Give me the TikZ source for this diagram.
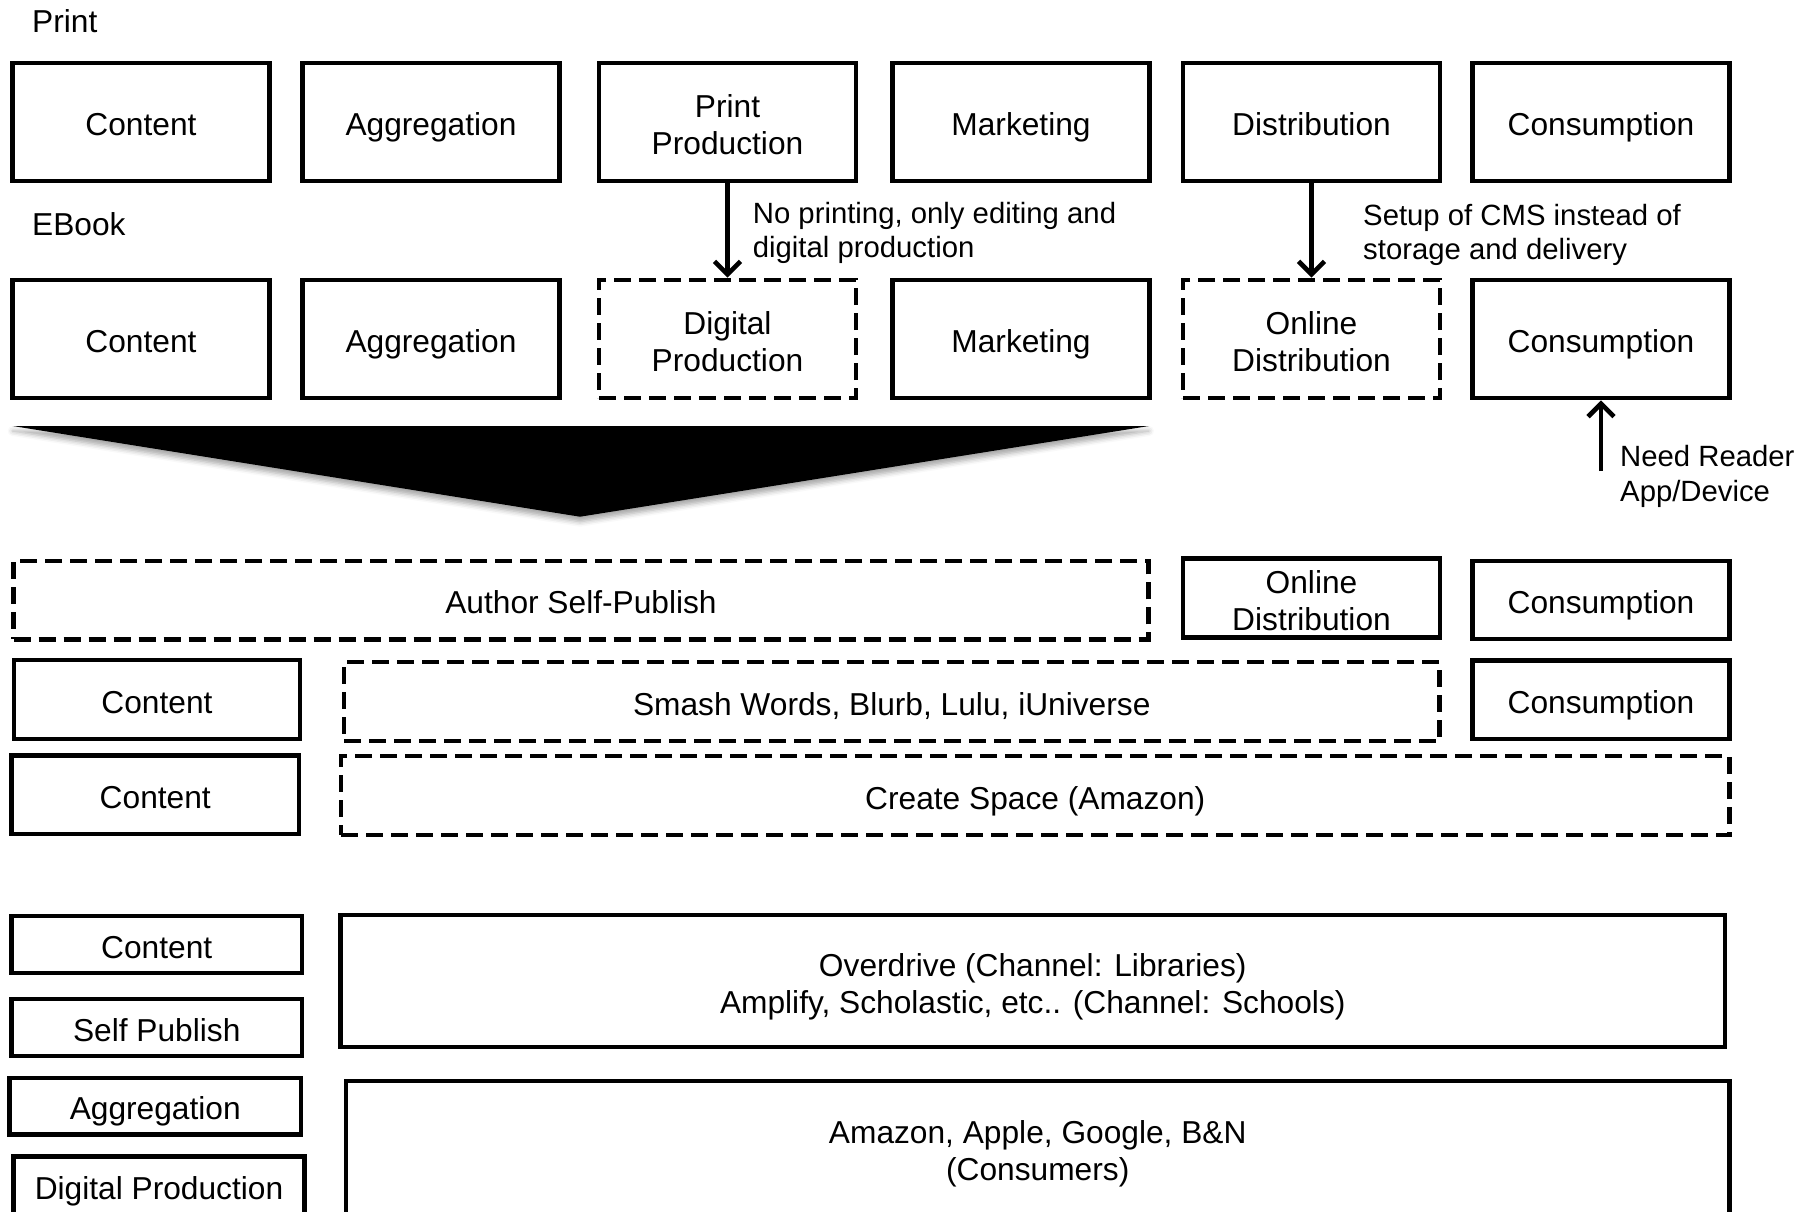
\documentclass[tikz,border=0pt]{standalone}
\usepackage{fontspec}
\setmainfont{Liberation Sans}
\usetikzlibrary{arrows.meta,shadows.blur}
\newcommand\bxfont{\fontsize{31.7pt}{36.8pt}\selectfont}
\newcommand\anfont{\fontsize{29.3pt}{34.5pt}\selectfont}
\newcommand\tstrut{\rule{0pt}{27.5pt}}
\begin{document}
\begin{tikzpicture}[x=1pt,y=-1pt,
  box/.style={draw=black, line width=4.7pt, rectangle, inner sep=0pt, outer sep=2.35pt, align=center, font=\bxfont},
  dbox/.style={box, dash pattern=on 17pt off 8pt},
  one/.style={text height=27pt, text depth=0pt},
  ml/.style={text depth=0pt},
  ann/.style={font=\anfont, align=left, anchor=west, inner sep=0pt},
  lbl/.style={font=\bxfont, anchor=base west, inner sep=0pt},
  arr/.style={line width=4.7pt, -{Straight Barb[length=13pt,width=26pt]}}
]
\useasboundingbox (0,0) rectangle (1802,1211);
\clip (0,0) rectangle (1802,1211);

% labels
\node[lbl] (lprint) at (32,32) {Print};
\node[lbl] (lebook) at (32,235) {EBook};

% row 1 (print)
\node[box,one,minimum width=257pt,minimum height=118pt] (c1) at (141,122) {Content};
\node[box,one,minimum width=257pt,minimum height=118pt] (a1) at (431,122) {Aggregation};
\node[box,ml,minimum width=257pt,minimum height=118pt] (pp) at (727.5,122) {\tstrut Print\\Production};
\node[box,one,minimum width=257pt,minimum height=118pt] (m1) at (1021,122) {Marketing};
\node[box,one,minimum width=257pt,minimum height=118pt] (d1) at (1311.5,122) {Distribution};
\node[box,one,minimum width=257pt,minimum height=118pt] (k1) at (1601,122) {Consumption};

% row 2 (ebook)
\node[box,one,minimum width=257pt,minimum height=118pt] (c2) at (141,339) {Content};
\node[box,one,minimum width=257pt,minimum height=118pt] (a2) at (431,339) {Aggregation};
\node[dbox,ml,minimum width=257pt,minimum height=118pt] (dp) at (727.5,339) {\tstrut Digital\\Production};
\node[box,one,minimum width=257pt,minimum height=118pt] (m2) at (1021,339) {Marketing};
\node[dbox,ml,minimum width=257pt,minimum height=118pt] (od) at (1311.5,339) {\tstrut Online\\Distribution};
\node[box,one,minimum width=257pt,minimum height=118pt] (k2) at (1601,339) {Consumption};

% arrows and annotations
\draw[arr] (pp.south) -- (dp.north);
\draw[arr] (d1.south) -- (od.north);
\coordinate (rd) at (1601,471);
\draw[arr] (rd) -- (k2.south);
\node[ann] (n1) at (752.7,233) {No printing, only editing and\\digital production};
\node[ann] (n2) at (1363,235) {Setup of CMS instead of\\storage and delivery};
\node[ann] (n3) at (1620,476.5) {Need Reader\\App/Device};

% big triangle
\fill[black, blur shadow={shadow xshift=0pt, shadow yshift=-5pt, shadow blur radius=5pt, shadow opacity=35}]
  (12.7,426) -- (1149,426) -- (580,516.7) -- cycle;

% row 3
\node[dbox,one,minimum width=1135pt,minimum height=78.5pt] (asp) at (581,600.2) {Author Self-Publish};
\node[box,ml,minimum width=257pt,minimum height=79pt] (od3) at (1311.5,598) {\tstrut Online\\Distribution};
\node[box,one,minimum width=257pt,minimum height=78pt] (k3) at (1601,600) {Consumption};

% row 4
\node[box,one,minimum width=286pt,minimum height=79pt] (c4) at (157,699.5) {Content};
\node[dbox,one,minimum width=1095.5pt,minimum height=79pt] (sw) at (891.75,701.5) {Smash Words, Blurb, Lulu, iUniverse};
\node[box,one,minimum width=257pt,minimum height=78.5pt] (k4) at (1601,699.75) {Consumption};

% row 5
\node[box,one,minimum width=287.5pt,minimum height=78.5pt] (c5) at (155.25,794.75) {Content};
\node[dbox,one,minimum width=1388.5pt,minimum height=79pt] (cs) at (1035.25,795.5) {Create Space (Amazon)};

% bottom section
\node[box,one,minimum width=290.5pt,minimum height=57pt] (c6) at (156.75,944.5) {Content};
\node[box,one,minimum width=290.5pt,minimum height=57pt] (sp6) at (156.75,1027.5) {Self Publish};
\node[box,one,minimum width=291.5pt,minimum height=56.5pt] (a6) at (155.25,1106.25) {Aggregation};
\node[box,one,minimum width=291pt,minimum height=58pt] (dp6) at (159,1185.5) {Digital Production};
\node[box,ml,minimum width=1384.5pt,minimum height=132pt] (ov) at (1032.75,981) {\tstrut Overdrive (Channel: Libraries)\\Amplify, Scholastic, etc.. (Channel: Schools)};
\node[box,ml,minimum width=1383.5pt,minimum height=134pt] (am) at (1037.75,1148) {\tstrut Amazon, Apple, Google, B\&N\\(Consumers)};
\end{tikzpicture}
\end{document}
